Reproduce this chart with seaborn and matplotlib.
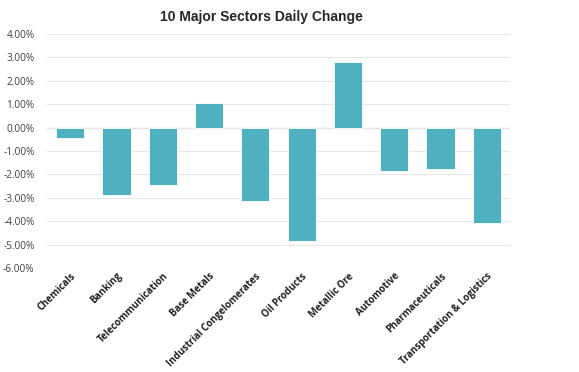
import matplotlib
matplotlib.use("Agg")
import matplotlib.pyplot as plt
import seaborn as sns
import pandas as pd
from matplotlib.ticker import FuncFormatter

sectors = ["Chemicals", "Banking", "Telecommunication", "Base Metals",
           "Industrial Congelomerates", "Oil Products", "Metallic Ore",
           "Automotive", "Pharmaceuticals", "Transportation & Logistics"]
change = [-0.45, -2.89, -2.46, 1.04, -3.14, -4.86, 2.80, -1.85, -1.79, -4.06]

df = pd.DataFrame({"sector": sectors, "change": change})

sns.set_style("white")
plt.rcParams["font.family"] = ["Open Sans", "DejaVu Sans"]

fig = plt.figure(figsize=(5.79, 3.72), dpi=100)
ax = fig.add_axes([47 / 579, 1 - 268 / 372, 463 / 579, 234 / 372])

sns.barplot(data=df, x="sector", y="change", color="#4FB0C0", width=0.61,
            saturation=1, edgecolor="white", linewidth=0.6, ax=ax)

ax.set_ylim(-6, 4)
ax.set_yticks(range(-6, 5))
ax.yaxis.set_major_formatter(FuncFormatter(lambda v, p: f"{v:.2f}%"))
ax.grid(axis="y", color="#E6E6E6", linewidth=0.8)
ax.set_axisbelow(True)
ax.axhline(0, color="#C8C8C8", linewidth=0.9, zorder=0.5)
for s in ax.spines.values():
    s.set_visible(False)

ax.set_xlabel("")
ax.set_ylabel("")
ax.tick_params(axis="y", labelsize=7.2, colors="#404040", length=0, pad=9)
ax.tick_params(axis="x", length=0, pad=2)
for lab in ax.get_xticklabels():
    lab.set_rotation(45)
    lab.set_ha("right")
    lab.set_rotation_mode("anchor")
    lab.set_fontsize(6.9)
    lab.set_fontweight("bold")
    lab.set_color("#202020")

fig.text(0.451, 0.954, "10 Major Sectors Daily Change", ha="center", va="center",
         fontsize=10, fontweight="bold", family=["Liberation Sans", "DejaVu Sans"])

fig.savefig("out.png", dpi=100)
